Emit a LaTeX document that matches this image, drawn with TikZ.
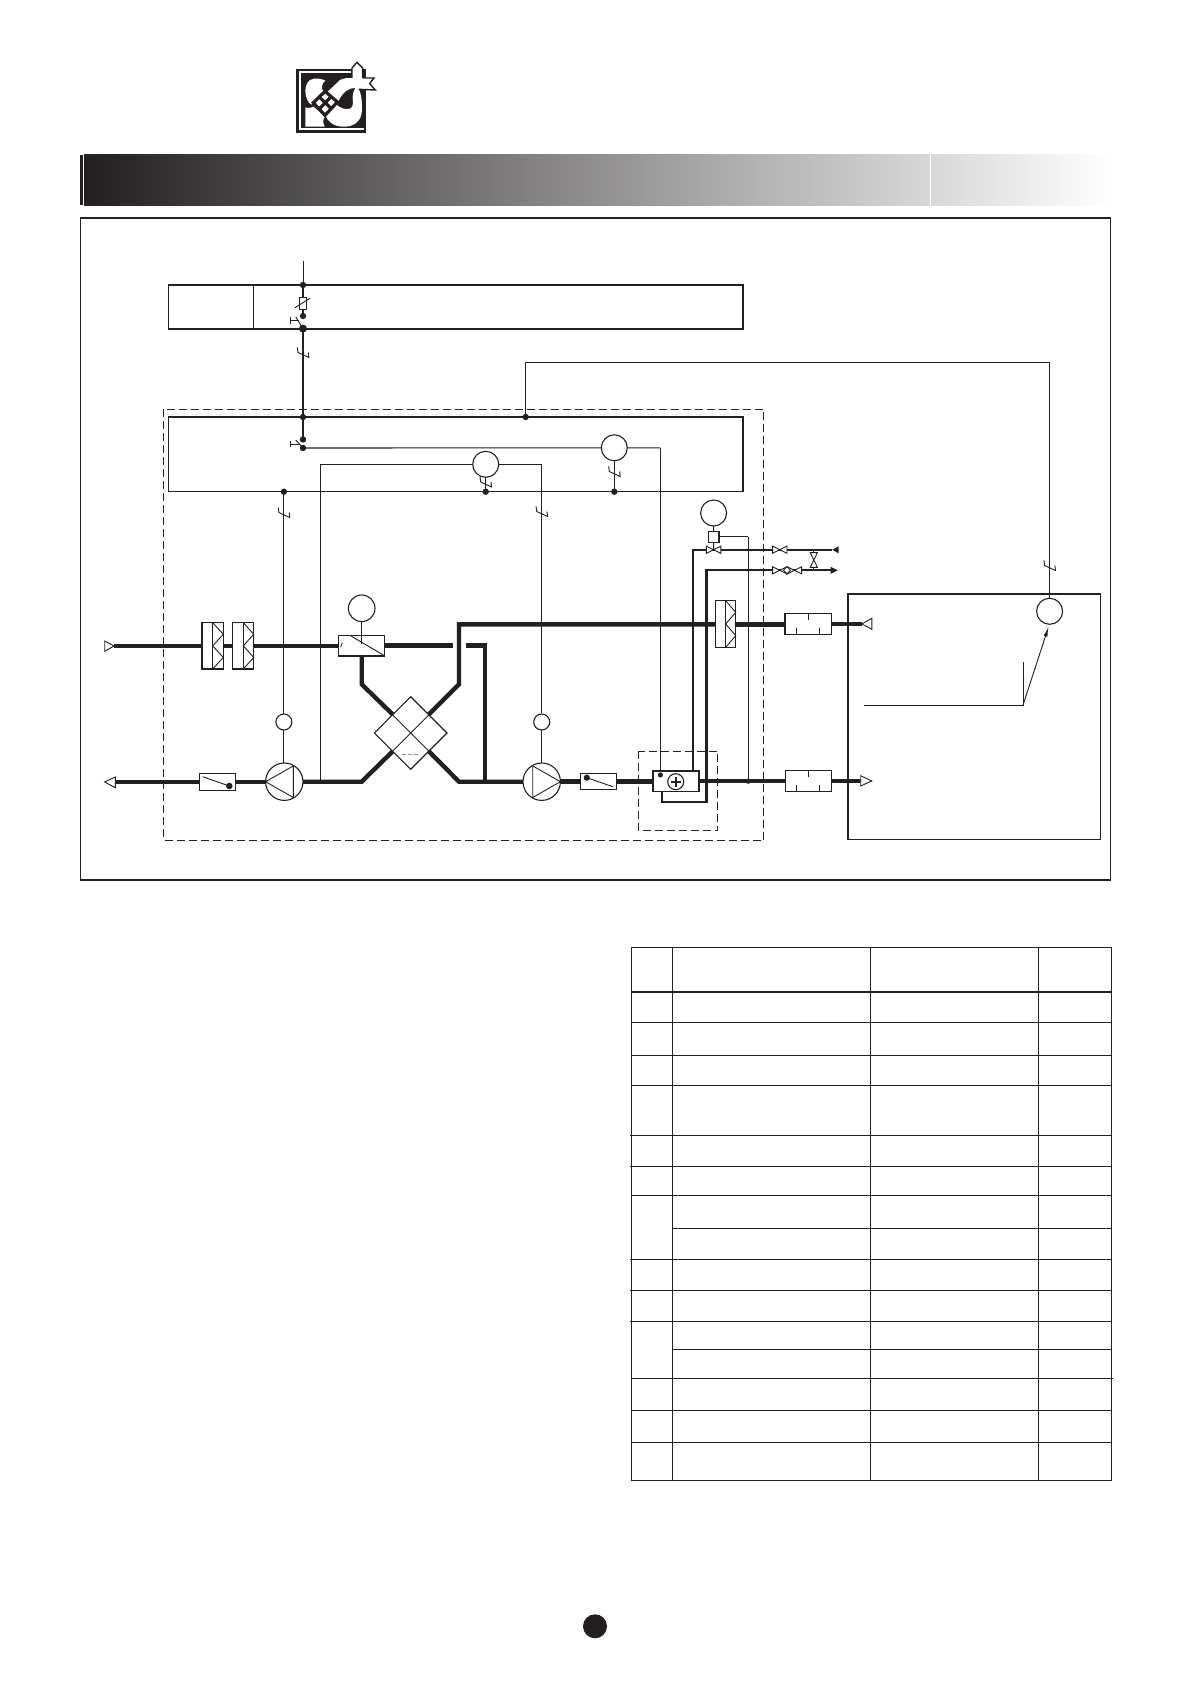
\documentclass[tikz,border=0pt]{standalone}
\usetikzlibrary{shapes.geometric,arrows.meta}
\definecolor{ink}{HTML}{231F20}
\tikzset{
  frameline/.style={draw=ink,line width=.6pt},
  wire/.style={draw=ink,line width=.45pt},
  pipe/.style={draw=ink,line width=2.2pt},
  midpipe/.style={draw=ink,line width=1.15pt},
  dashframe/.style={draw=ink,line width=.45pt,dash pattern=on 4pt off 2pt},
  plainbox/.style={draw=ink,line width=.6pt,fill=white,rectangle,inner sep=0pt,outer sep=0pt},
  ring/.style={draw=ink,line width=.55pt,fill=white,circle,inner sep=0pt,outer sep=0pt},
  jdot/.style={fill=ink,circle,inner sep=0pt,outer sep=0pt,minimum size=3.2pt},
  tablerule/.style={draw=ink,line width=.55pt},
}
% name, x1, y1, x2, y2
\newcommand\pbox[5]{%
  \pgfmathsetmacro\bw{(#4-#2)*.5}\pgfmathsetmacro\bh{(#5-#3)*.5}%
  \pgfmathsetmacro\bx{(#2+#4)/2}\pgfmathsetmacro\by{(#3+#5)/2}%
  \node[plainbox,minimum width=\bw pt,minimum height=\bh pt] (#1) at (\bx,\by) {};}
% name, x1, xdivider, x2, y1, y2
\newcommand\filt[6]{%
  \pbox{#1}{#2}{#5}{#4}{#6}%
  \pgfmathsetmacro\qa{#5+(#6-#5)/4}\pgfmathsetmacro\qb{(#5+#6)/2}\pgfmathsetmacro\qc{#5+(#6-#5)*3/4}%
  \draw[wire] (#3,#5) -- (#3,#6);
  \draw[wire] (#3,#5) -- (#4,\qa) -- (#3,\qb) -- (#4,\qc) -- (#3,#6);}
% name, cx, cy, triangle pointing: 1 = right, -1 = left
\newcommand\fan[4]{%
  \node[ring,minimum size=18.7pt] (#1) at (#2,#3) {};
  \draw[wire] (#2+#4*18.7,#3) -- (#2-#4*9,#3-15.8) -- (#2-#4*9,#3+15.8) -- cycle;}
% name, cx, cy
\newcommand\valveh[3]{%
  \coordinate (#1) at (#2,#3);
  \draw[wire,fill=white] (#2-7.2,#3-3.6) -- (#2-7.2,#3+3.6) -- (#2+7.2,#3-3.6) -- (#2+7.2,#3+3.6) -- cycle;}
\newcommand\valvev[3]{%
  \coordinate (#1) at (#2,#3);
  \draw[wire,fill=white] (#2-3.6,#3-7.4) -- (#2+3.6,#3-7.4) -- (#2-3.6,#3+7.4) -- (#2+3.6,#3+7.4) -- cycle;}
% cable break mark on a named point
\newcommand\brk[1]{%
  \draw[wire] ([shift={(-5.7,-6.7)}]#1) -- ([shift={(-5,-1.5)}]#1) -- ([shift={(5.9,3.5)}]#1) -- ([shift={(5.3,-1.5)}]#1);}
% silencer: name x1 y1 x2 y2
\newcommand\silencer[5]{%
  \pbox{#1}{#2}{#3}{#4}{#5}%
  \pgfmathsetmacro\mx{(#2+#4)/2}\pgfmathsetmacro\ax{#2+(#4-#2)/4}\pgfmathsetmacro\cx{#2+(#4-#2)*3/4}%
  \draw[wire] (\mx,#3) -- (\mx,#3+6.7);
  \draw[wire] (\ax,#5) -- (\ax,#5-6.7);
  \draw[wire] (\cx,#5) -- (\cx,#5-6.7);}
\begin{document}
\begin{tikzpicture}[x=.5pt,y=-.5pt]
\useasboundingbox (0,0) rectangle (1190,1684);
\fill[white] (0,0) rectangle (1190,1684);
% ---- logo
\begin{scope}[shift={(290,58)},x=.16667pt,y=-.16667pt]
  \fill[ink] (18,33) rectangle (228,226);
  \draw[white,line width=1pt] (183,43) -- (30,43) -- (30,214) -- (222,214);
  % left heart
  \fill[white] (46,98) .. controls (46,80) and (55,64) .. (72,62)
     .. controls (85,60) and (98,64) .. (106,68)
     .. controls (96,76) and (92,88) .. (100,102)
     -- (64,140) .. controls (54,134) and (46,118) .. (46,98) -- cycle;
  % bottom left block
  \fill[white] (46,148) .. controls (56,152) and (64,150) .. (70,146)
     -- (106,176) .. controls (98,182) and (98,194) .. (104,206) -- (46,206) -- cycle;
  % ribbon and J
  \fill[white] (112,102) -- (150,66) .. controls (160,60) and (175,60) .. (186,60) -- (250,60)
     -- (238,77) -- (254,95) -- (206,93)
     .. controls (216,110) and (218,150) .. (214,170)
     .. controls (208,198) and (180,208) .. (155,206)
     .. controls (130,204) and (112,190) .. (105,170)
     -- (140,140) .. controls (150,150) and (165,156) .. (180,152)
     .. controls (192,148) and (188,130) .. (188,118)
     .. controls (188,105) and (192,96) .. (196,90)
     .. controls (175,90) and (160,100) .. (145,130) -- cycle;
  \draw[ink,line width=.7pt,fill=white] (186,60) -- (186,30) -- (201,13) -- (218,30) -- (218,60);
  \draw[ink,line width=.7pt] (218,60) -- (252,60) -- (239,77) -- (256,96) -- (206,94);
  % lattice
  \draw[ink,line width=1.6pt,fill=white] (105,100) -- (142,132) -- (105,172) -- (70,134) -- cycle;
  \draw[ink,line width=1.6pt] (88,117) -- (124,152) (123,116) -- (88,153);
\end{scope}
% ---- title band
\fill[ink] (80,155) rectangle (82.8,205);
\shade[left color=ink,right color=white] (84,155) rectangle (1110,206);
\fill[white] (929.8,153) rectangle (930.9,206);
% ---- outer frame
\draw[frameline] (80.5,218) rectangle (1110.5,880);
% ---- main frames
\draw[dashframe] (163.7,409.3) rectangle (763.9,840.5);
\draw[dashframe] (638.2,751) rectangle (717.9,830.7);
\draw[frameline] (168.2,285) rectangle (743,329);
\draw[frameline] (253.2,285) -- (253.2,329);
\draw[frameline] (168.2,417) rectangle (743,491.7);
\draw[frameline] (847.9,594) rectangle (1100.4,839.3);
% ---- key points
\coordinate (feedTop) at (303,261);
\coordinate (j1) at (303,285);
\coordinate (j2) at (303,316);
\coordinate (j3) at (303,328.6);
\coordinate (j4) at (303,417);
\coordinate (j5) at (303,439.5);
\coordinate (j6) at (303,448);
\coordinate (j7) at (525.7,417);
\coordinate (bk1) at (303,354);
\coordinate (room) at (1049.6,362.3);
\coordinate (d1) at (283.9,491.7);
\coordinate (d2) at (485.7,491.7);
\coordinate (d3) at (614.3,491.7);
\coordinate (bk2) at (283.9,514);
\coordinate (bk3) at (541.7,513);
\coordinate (bk4) at (485.7,483.5);
\coordinate (bk5) at (614.3,473);
\coordinate (bk6) at (1049.6,567);
\coordinate (inA) at (114,646);
\coordinate (bA) at (452.7,645.65);
\coordinate (bB) at (466,645.65);
\coordinate (bC) at (485,645.65);
\coordinate (bD) at (485,781.5);
\coordinate (upL) at (361.7,684.3);
\coordinate (upR) at (459,684.3);
\coordinate (topR) at (459,624.3);
\coordinate (loL) at (361.7,781.7);
\coordinate (loR) at (459,781.7);
\coordinate (outA) at (115.3,781.7);
\coordinate (w320) at (320,464.3);
\coordinate (w320b) at (320,781.7);
\coordinate (w541) at (541.7,464.3);
\coordinate (ctl) at (660.4,447.8);
\coordinate (ctlEnd) at (660.4,775);
\coordinate (p1Top) at (693.2,549.7);
\coordinate (p1Bot) at (693.2,771);
\coordinate (p2Top) at (706.4,570.3);
\coordinate (p2Bot) at (706.4,801.7);
\coordinate (p2End) at (661.8,801.7);
\coordinate (p2In) at (661.8,791.7);
\coordinate (e1) at (832.3,549.7);
\coordinate (e2) at (831,570.3);
\coordinate (wA) at (748.2,536.7);
\coordinate (wB) at (748.2,781.2);
\coordinate (t1) at (861.8,624);
\coordinate (t2) at (860.7,781);
\coordinate (rs1) at (863.6,705);
\coordinate (rs2) at (1023,705);
\coordinate (rs3) at (1023,661.7);
\coordinate (rs4) at (1048.6,626.7);
% ---- electrical wires
\draw[wire,line width=.4pt] (feedTop) -- (j1);
\draw[wire,line width=.55pt] (j1) -- (303,297);
\draw[wire,line width=.55pt] (303,309) -- (j2);
\draw[wire,line width=.55pt] (j3) -- (j4);
\draw[wire,line width=.55pt] (j4) -- (j5);
\brk{bk1}
\draw[wire] (j3) -- (295.7,316.7);
\draw[wire] (290.4,320.7) -- (298.6,320.7) (290.4,317.3) -- (290.4,324);
\draw[wire] (j6) -- (295.7,440);
\draw[wire] (290.4,444) -- (298.6,444) (290.4,440.7) -- (290.4,447.4);
\draw[wire] (j7) |- (room);
\draw[wire] (room) -- (1049.6,598);
\brk{bk6}
\draw[wire,line width=.55pt] (j6) -- (ctl);
\draw[wire] (ctl) -- (ctlEnd);
\draw[wire] (w320b) -- (w320) -- (w541) -- (541.7,713);
\draw[wire] (d1) -- (283.9,714);
\draw[wire] (d2) -- (485.7,470);
\draw[wire] (d3) -- (614.3,450);
\brk{bk2} \brk{bk3} \brk{bk4} \brk{bk5}
\draw[wire] (283.9,730) -- (283.9,763);
\draw[wire] (541.7,730) -- (541.7,763);
\draw[wire,line width=.55pt] (wA) -- (wB);
\draw[wire] (719,536.7) -- (wA);
% ---- thick ducts
\draw[pipe] (inA) -- (338.3,646);
\draw[pipe] (384.3,645.65) -- (bA);
\draw[pipe] (bB) -- (bC) -- (bD);
\draw[pipe] (361.7,656) -- (upL) -- (393.3,715);
\draw[pipe] (428.3,715) -- (upR) -- (topR) -- (715.4,624.3);
\draw[pipe] (735.7,624.3) -- (785,624.3);
\draw[pipe] (831.4,624) -- (t1);
\draw[pipe] (outA) -- (266,781.7);
\draw[pipe] (303,781.7) -- (loL) -- (393.3,750.7);
\draw[pipe] (428.3,750.7) -- (loR) -- (523,781.7);
\draw[pipe] (560,781.5) -- (652.9,781.5);
\draw[pipe] (698.9,781.2) -- (785.4,781.2);
\draw[pipe] (831.4,781) -- (t2);
% ---- water pipes
\draw[midpipe] (p1Bot) -- (p1Top) -- (e1);
\draw[midpipe] (p2In) -- (p2End) -- (p2Bot) -- (p2Top) -- (e2);
% ---- equipment
\pbox{fuse}{299.3}{297.3}{306.4}{309.3}
\draw[wire] (295,307.7) -- (310,298.3);
\filt{f1}{202}{212.7}{223.3}{622.7}{669}
\filt{f2}{232.7}{243.3}{253.7}{622.7}{669}
\filt{f3}{715.4}{725.7}{735.7}{600.7}{647.3}
\pbox{byp}{338.3}{635.3}{384.3}{656}
\draw[wire] (351,636) -- (383.3,655);
\draw[wire] (340.7,647.3) -- (342.3,642.7);
\node[ring,minimum size=13.3pt] (m1) at (361.7,608.3) {};
\draw[wire] (m1) -- (361.7,643.5);
\node[diamond,aspect=1,draw=ink,line width=.55pt,fill=white,inner sep=0pt,outer sep=0pt,minimum width=36.3pt,minimum height=36.3pt] (hx) at (410.7,733) {};
\draw[wire] (hx.north west) -- (hx.south east);
\draw[wire] (hx.north east) -- (hx.south west);
\draw[draw=ink!50,line width=.3pt,dash pattern=on 2pt off 1pt] (401.7,754.3) -- (418.3,754.3);
\node[ring,minimum size=8pt] (s1) at (283.9,722) {};
\node[ring,minimum size=8pt] (s2) at (541.7,722) {};
\fan{fan1}{284.3}{781.7}{-1}
\fan{fan2}{541.7}{781.7}{1}
\pbox{dmp1}{199.3}{773.7}{235.7}{790.3}
\draw[wire] (202.7,776.7) -- (229.3,786);
\fill[ink] (229.3,786) circle (3.3);
\pbox{dmp2}{580.7}{773.3}{616.4}{789.7}
\draw[wire] (586.8,777.7) -- (612.9,786.7);
\fill[ink] (586.8,777.7) circle (3.1);
\pbox{heat}{652.9}{771}{698.9}{791.7}
\node[ring,minimum size=8pt] (plus) at (675.7,781.7) {};
\draw[draw=ink,line width=.8pt] (670.7,781.7) -- (680.7,781.7) (675.7,776.7) -- (675.7,786.7);
\node[jdot,minimum size=2.6pt] at (ctlEnd) {};
\silencer{sil1}{785}{613.3}{831.4}{634.7}
\silencer{sil2}{785.4}{770.7}{831.4}{791.3}
\node[ring,minimum size=13pt] (m3) at (485.7,464.3) {};
\node[ring,minimum size=13pt] (m4) at (614.3,447.8) {};
\node[ring,minimum size=13pt] (m5) at (713.6,513) {};
\node[ring,minimum size=13pt] (m6) at (1049.6,611.3) {};
\pbox{act}{708.2}{531.7}{719}{542.3}
\draw[wire] (m5) -- (act);
\draw[wire] (act) -- (713.6,549.7);
\valveh{v1}{713.6}{549.7}
\valveh{v2}{779.8}{549.7}
\valveh{v3}{779.8}{570.3}
\valveh{v4}{794.4}{570.3}
\draw[wire,fill=white] (787,566.7) -- (790.5,570.3) -- (787,573.9) -- (783.5,570.3) -- cycle;
\draw[midpipe,line width=.6pt] (813.8,549.7) -- (813.8,570.3);
\valvev{v5}{813.8}{560}
% ---- ends
\draw[wire,fill=white] (114,646) -- (104.7,641) -- (104.7,651.3) -- cycle;
\draw[wire,fill=white] (104.7,782) -- (115.3,777) -- (115.3,787.7) -- cycle;
\draw[wire,fill=white] (861.8,624) -- (871.8,618.3) -- (871.8,629.3) -- cycle;
\draw[wire,fill=white] (871.8,781) -- (860.7,775.7) -- (860.7,786) -- cycle;
\fill[ink] (832.3,549.7) -- (838.6,546.4) -- (838.6,553.4) -- cycle;
\fill[ink] (837.8,570.3) -- (830.7,566.8) -- (830.7,573.8) -- cycle;
% ---- room sensor path
\draw[wire] (rs1) -- (rs2) -- (rs3);
\draw[wire,-{Latex[length=5pt,width=2pt]}] (rs2) -- (rs4);
% ---- junctions
\foreach \n in {j1,j2,j4,j5,j6,j7,d1,d2,d3} {\node[jdot] at (\n) {};}
\node[jdot,minimum size=4pt] at (j3) {};
\node[jdot,minimum size=2.6pt] at (wB) {};
% ---- table
\foreach \yy in {947.5,1022.4,1055.5,1085.3,1135.5,1166.4,1195.5,1259.5,1290.4,1321.6,1378.4,1410.4,1442.4,1480.5}
  {\draw[tablerule] (631.3,\yy) -- (1111.7,\yy);}
\draw[tablerule,line width=1pt] (631.3,991.8) -- (1111.7,991.8);
\draw[tablerule] (672.3,1228.5) -- (1111.7,1228.5);
\draw[tablerule] (672.3,1349.6) -- (1111.7,1349.6);
\foreach \xx in {631.3,672.3,870.3,1038.3,1111.7}
  {\draw[tablerule] (\xx,947.5) -- (\xx,1480.5);}
\foreach \yy in {1135.5,1166.4,1259.5,1290.4,1321.6}
  {\draw[tablerule] (630.2,\yy) -- (631.3,\yy);}
\draw[tablerule] (1111.7,1378.4) -- (1113,1378.4);
% ---- page dot
\fill[ink] (595,1626.3) circle (12);
\end{tikzpicture}
\end{document}
